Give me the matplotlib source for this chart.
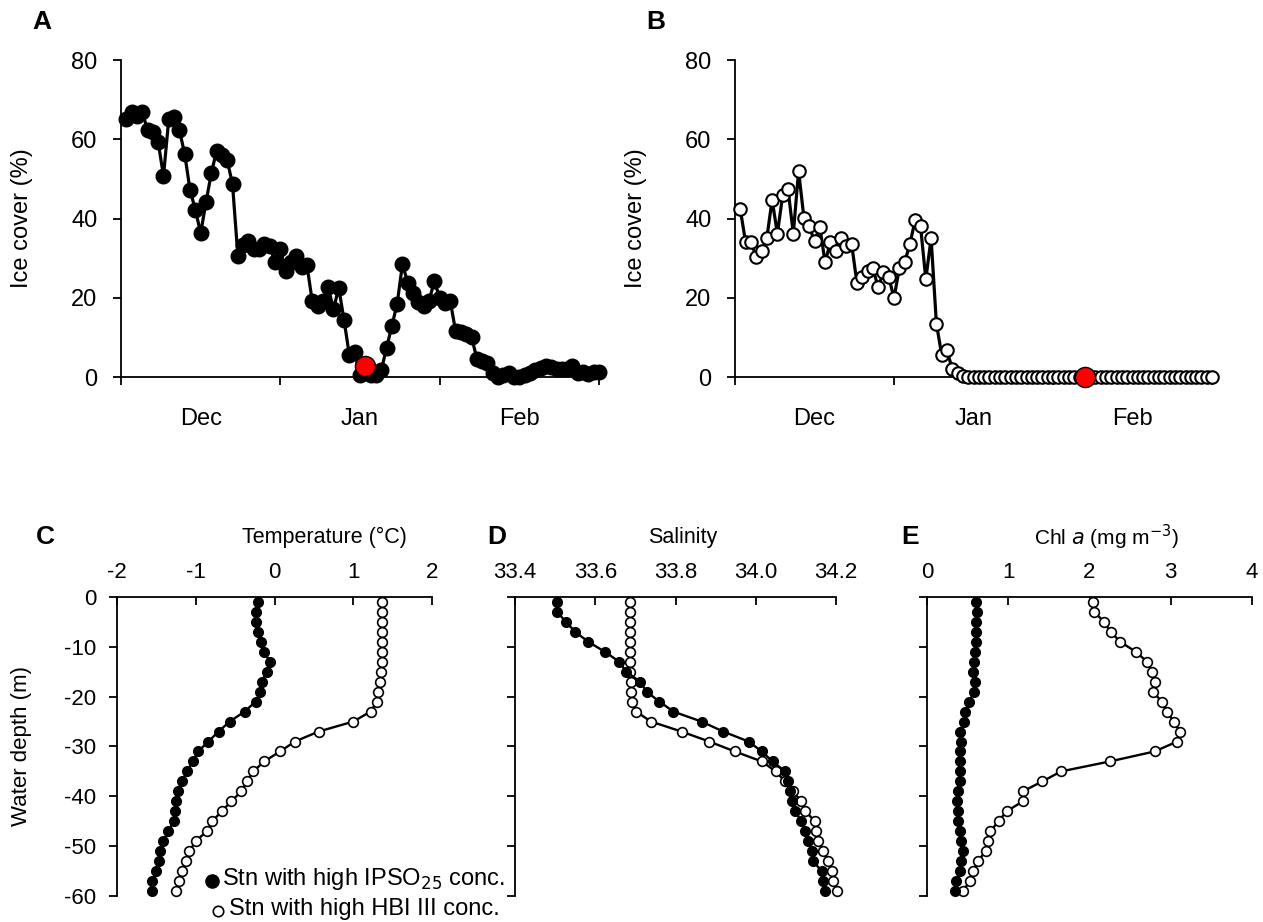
import numpy as np
import matplotlib
matplotlib.use("Agg")
import matplotlib.pyplot as plt
from matplotlib.lines import Line2D

plt.rcParams['font.family'] = ['Liberation Sans', 'DejaVu Sans']
plt.rcParams['axes.unicode_minus'] = False

# ---------------- data ----------------
month_labels = ["Dec", "Jan", "Feb"]

ice_A = [65.0, 66.9, 65.9, 66.8, 62.4, 61.9, 59.3, 50.7, 65.2, 65.7,
         62.3, 56.2, 47.2, 42.2, 36.3, 44.1, 51.4, 57.1, 56.0, 54.7,
         48.6, 30.6, 33.4, 34.3, 32.3, 32.4, 33.6, 33.1, 28.9, 32.2,
         26.8, 29.0, 30.5, 27.7, 28.3, 19.2, 17.9, 19.2, 22.7, 17.1,
         22.5, 14.3, 5.5, 6.2, 0.4, 1.0, 0.4, 0.4, 1.7, 7.3,
         12.9, 18.5, 28.5, 23.7, 21.3, 18.9, 17.9, 19.2, 24.2, 20.0,
         18.7, 19.1, 11.6, 11.4, 10.8, 10.2, 4.6, 4.0, 3.6, 0.9,
         0.0, 0.4, 0.9, 0.0, 0.0, 0.4, 1.0, 1.7, 2.3, 2.8,
         2.5, 2.1, 1.9, 2.1, 2.8, 1.0, 1.2, 0.8, 1.3, 1.2]
days_A = list(range(1, len(ice_A) + 1))
station_A_day, station_A_ice = 46, 2.7

ice_B = [42.3, 34.0, 34.0, 30.4, 31.9, 35.0, 44.7, 36.2, 45.9, 47.4,
         36.2, 52.0, 40.2, 38.1, 34.2, 37.9, 28.9, 34.1, 31.8, 35.0,
         33.1, 33.6, 23.8, 25.3, 26.8, 27.6, 22.6, 26.5, 25.3, 19.9,
         27.4, 28.9, 33.6, 39.6, 38.2, 24.7, 35.0, 13.5, 5.6, 6.8,
         1.9, 0.9, 0.2] + [0.0] * 47
days_B = list(range(1, len(ice_B) + 1))
station_B_day, station_B_ice = 66, 0.0

depth = [-1, -3, -5, -7, -9, -11, -13, -15, -17, -19, -21, -23, -25, -27, -29,
         -31, -33, -35, -37, -39, -41, -43, -45, -47, -49, -51, -53, -55, -57, -59]

temp_ipso = [-0.21, -0.23, -0.23, -0.21, -0.17, -0.13, -0.06, -0.10, -0.16, -0.18,
             -0.24, -0.38, -0.57, -0.71, -0.84, -0.97, -1.04, -1.11, -1.18, -1.23,
             -1.25, -1.26, -1.28, -1.35, -1.41, -1.46, -1.47, -1.50, -1.55, -1.56]
temp_hbi = [1.36, 1.36, 1.36, 1.36, 1.36, 1.36, 1.36, 1.35, 1.34, 1.32,
            1.30, 1.22, 1.00, 0.56, 0.26, 0.07, -0.13, -0.27, -0.35, -0.42,
            -0.55, -0.67, -0.79, -0.86, -1.00, -1.08, -1.13, -1.18, -1.21, -1.25]

sal_ipso = [33.505, 33.505, 33.527, 33.550, 33.583, 33.624, 33.660, 33.677, 33.712, 33.728,
            33.760, 33.795, 33.865, 33.919, 33.982, 34.015, 34.042, 34.073, 34.081, 34.085,
            34.090, 34.098, 34.114, 34.123, 34.131, 34.139, 34.143, 34.164, 34.167, 34.173]
sal_hbi = [33.687, 33.687, 33.687, 33.687, 33.687, 33.687, 33.687, 33.687, 33.688, 33.688,
           33.691, 33.702, 33.739, 33.815, 33.884, 33.948, 34.015, 34.050, 34.073, 34.092,
           34.114, 34.123, 34.148, 34.150, 34.156, 34.167, 34.181, 34.189, 34.193, 34.202]

chl_ipso = [0.60, 0.61, 0.60, 0.60, 0.60, 0.59, 0.58, 0.56, 0.59, 0.58,
            0.52, 0.47, 0.45, 0.41, 0.42, 0.40, 0.40, 0.40, 0.40, 0.38,
            0.37, 0.38, 0.38, 0.40, 0.42, 0.44, 0.42, 0.40, 0.36, 0.34]
chl_hbi = [2.04, 2.06, 2.18, 2.26, 2.38, 2.57, 2.71, 2.77, 2.81, 2.78,
           2.89, 2.95, 3.04, 3.11, 3.08, 2.80, 2.25, 1.65, 1.42, 1.18,
           1.18, 0.98, 0.88, 0.78, 0.75, 0.72, 0.63, 0.56, 0.53, 0.44]

# ---------------- figure ----------------
W, H = 1263, 922
fig = plt.figure(figsize=(W / 100, H / 100), dpi=100)

def ax_px(l, t, r, b):
    return fig.add_axes([l / W, 1 - b / H, (r - l) / W, (b - t) / H])

def fx(px):
    return px / W

def fy(px):
    return 1 - px / H

FS_A = 17
FS_P = 16

def setup_ice(ax):
    ax.set_xlim(0, 90)
    ax.set_ylim(0, 80)
    ax.spines['top'].set_visible(False)
    ax.spines['right'].set_visible(False)
    for s in ['left', 'bottom']:
        ax.spines[s].set_linewidth(1.3)
    ax.set_yticks([0, 20, 40, 60, 80])
    ax.set_xticks([0, 30, 60, 90])
    ax.set_xticklabels([])
    ax.set_xticks([15, 45, 75], minor=True)
    ax.set_xticklabels(month_labels, minor=True)
    ax.tick_params(axis='x', which='major', direction='out', length=6, width=1.3)
    ax.tick_params(axis='x', which='minor', length=0, pad=22, labelsize=FS_A)
    ax.tick_params(axis='y', direction='out', length=6, width=1.3, pad=11, labelsize=FS_A)
    ax.set_ylabel("Ice cover (%)", fontsize=FS_A)
    ax.yaxis.set_label_coords(-0.185, 0.5)

axA = ax_px(121, 60, 599, 377)
setup_ice(axA)
axA.plot(days_A, ice_A, '-o', color='black', lw=2.3, ms=10.5, mfc='black', mec='black', clip_on=False, zorder=3)
axA.plot([station_A_day], [station_A_ice], 'o', ms=14.5, mfc='#ff0000', mec='black', mew=1.0, clip_on=False, zorder=4)

axB = ax_px(735, 60, 1212, 377)
setup_ice(axB)
axB.plot(days_B, ice_B, '-o', color='black', lw=2.3, ms=9, mfc='white', mec='black', mew=1.5, clip_on=False, zorder=3)
axB.plot([station_B_day], [station_B_ice], 'o', ms=14.5, mfc='#ff0000', mec='black', mew=1.0, clip_on=False, zorder=4)

fig.text(fx(42), fy(22), "A", fontsize=19, fontweight='bold', ha='center', va='center')
fig.text(fx(656), fy(22), "B", fontsize=19, fontweight='bold', ha='center', va='center')

def setup_prof(ax, xlim, xticks, fmt, ylabels):
    ax.set_xlim(*xlim)
    ax.set_ylim(-60, 0)
    ax.spines['bottom'].set_visible(False)
    ax.spines['right'].set_visible(False)
    for s in ['left', 'top']:
        ax.spines[s].set_linewidth(1.3)
    ax.xaxis.set_ticks_position('top')
    ax.set_xticks(xticks)
    ax.set_xticklabels([fmt.format(v) for v in xticks])
    ax.tick_params(axis='x', direction='in', length=6, width=1.3, pad=10, labelsize=FS_P)
    ax.set_yticks([0, -10, -20, -30, -40, -50, -60])
    ax.tick_params(axis='y', direction='out', length=6, width=1.3, pad=9, labelsize=FS_P)
    if not ylabels:
        ax.set_yticklabels([])

def plot_prof(ax, a, b):
    ax.plot(b, depth, '-o', color='black', lw=1.7, ms=7, mfc='white', mec='black', mew=1.2, clip_on=False, zorder=3)
    ax.plot(a, depth, '-o', color='black', lw=1.7, ms=7, mfc='black', mec='black', clip_on=False, zorder=4)

axC = ax_px(117, 597, 432, 896)
setup_prof(axC, (-2, 2), [-2, -1, 0, 1, 2], "{:g}", True)
axC.set_ylabel("Water depth (m)", fontsize=16)
axC.yaxis.set_label_coords(-0.27, 0.5)
plot_prof(axC, temp_ipso, temp_hbi)

axD = ax_px(515, 597, 836, 896)
setup_prof(axD, (33.4, 34.2), [33.4, 33.6, 33.8, 34.0, 34.2], "{:.1f}", False)
plot_prof(axD, sal_ipso, sal_hbi)

axE = ax_px(927, 597, 1252, 896)
setup_prof(axE, (0, 4), [0, 1, 2, 3, 4], "{:g}", False)
plot_prof(axE, chl_ipso, chl_hbi)

fig.text(fx(324), fy(537), "Temperature (°C)", fontsize=15.5, ha='center', va='center')
fig.text(fx(683), fy(537), "Salinity", fontsize=15.5, ha='center', va='center')
fig.text(fx(1106), fy(537), r"Chl $\it{a}$ (mg m$^{-3}$)", fontsize=15, ha='center', va='center')

fig.text(fx(45), fy(537), "C", fontsize=19, fontweight='bold', ha='center', va='center')
fig.text(fx(497), fy(537), "D", fontsize=19, fontweight='bold', ha='center', va='center')
fig.text(fx(910), fy(537), "E", fontsize=19, fontweight='bold', ha='center', va='center')

# legend
fig.add_artist(Line2D([fx(212)], [fy(881)], transform=fig.transFigure, ls='none', marker='o',
                      ms=9.5, mfc='black', mec='black'))
fig.add_artist(Line2D([fx(218)], [fy(911)], transform=fig.transFigure, ls='none', marker='o',
                      ms=7.5, mfc='white', mec='black', mew=1.2))
fig.text(fx(222), fy(879), "Stn with high IPSO$_{25}$ conc.", fontsize=17, ha='left', va='center')
fig.text(fx(229), fy(909), "Stn with high HBI III conc.", fontsize=17, ha='left', va='center')

fig.savefig("out.png", dpi=100)
